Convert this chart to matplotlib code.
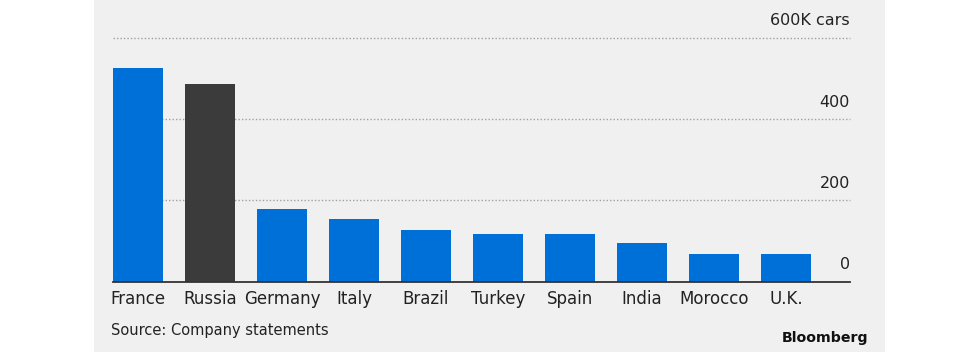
import matplotlib
matplotlib.use("Agg")
import matplotlib.pyplot as plt
from matplotlib.patches import Rectangle

countries = ["France", "Russia", "Germany", "Italy", "Brazil", "Turkey", "Spain", "India", "Morocco", "U.K."]
values = [525, 486, 178, 154, 127, 118, 118, 96, 69, 69]
highlight = "Russia"
yticks = [0, 200, 400, 600]
ytick_labels = ["0", "200", "400", "600K cars"]
source = "Source: Company statements"
brand = "Bloomberg"

BLUE = "#0070d9"
DARK = "#3b3b3b"
BG = "#f0f0f0"
TXT = "#222222"

plt.rcParams['font.family'] = ['DejaVu Sans']

W, H = 980, 354
fig = plt.figure(figsize=(W / 100, H / 100), dpi=100, facecolor="white")
fig.patches.append(Rectangle((94 / W, 2 / H), (885 - 94) / W, 1 - 2 / H,
                             transform=fig.transFigure, facecolor=BG, edgecolor="none", zorder=-10))

left, right = 113 / W, 850 / W
bottom, top = 1 - 281.7 / H, 1 - 38 / H
ax = fig.add_axes([left, bottom, right - left, top - bottom])
ax.set_facecolor("none")
ax.set_zorder(5)

x = list(range(len(countries)))
colors = [DARK if c == highlight else BLUE for c in countries]
ax.bar(x, values, width=50 / 72, color=colors, zorder=2)
ax.set_xlim(-0.347, len(countries) - 1 + 0.889)
ax.set_ylim(0, 600)

for v in yticks[1:]:
    ax.axhline(v, color="#a0a0a0", lw=1.0, ls=(0, (1, 1.5)), zorder=1, clip_on=False)
ax.axhline(0, color="#333333", lw=1.3, zorder=3, clip_on=False)

for v, lab in zip(yticks, ytick_labels):
    ax.annotate(lab, xy=(1, v), xycoords=("axes fraction", "data"),
                xytext=(0, 7), textcoords="offset points", ha="right", va="bottom",
                fontsize=11.5, color=TXT, annotation_clip=False)

ax.set_yticks([])
ax.set_xticks(x)
ax.set_xticklabels(countries, fontsize=12, color=TXT)
ax.tick_params(axis="x", length=0, pad=6)
for s in ax.spines.values():
    s.set_visible(False)

fig.text(111 / W, 1 - 330 / H, source, fontsize=10.5, color=TXT, ha="left", va="center")
fig.text(868 / W, 1 - 338 / H, brand, fontsize=10.2, color="#111111", ha="right", va="center",
         fontweight="bold")

fig.savefig("out.png", dpi=100, facecolor="white")
